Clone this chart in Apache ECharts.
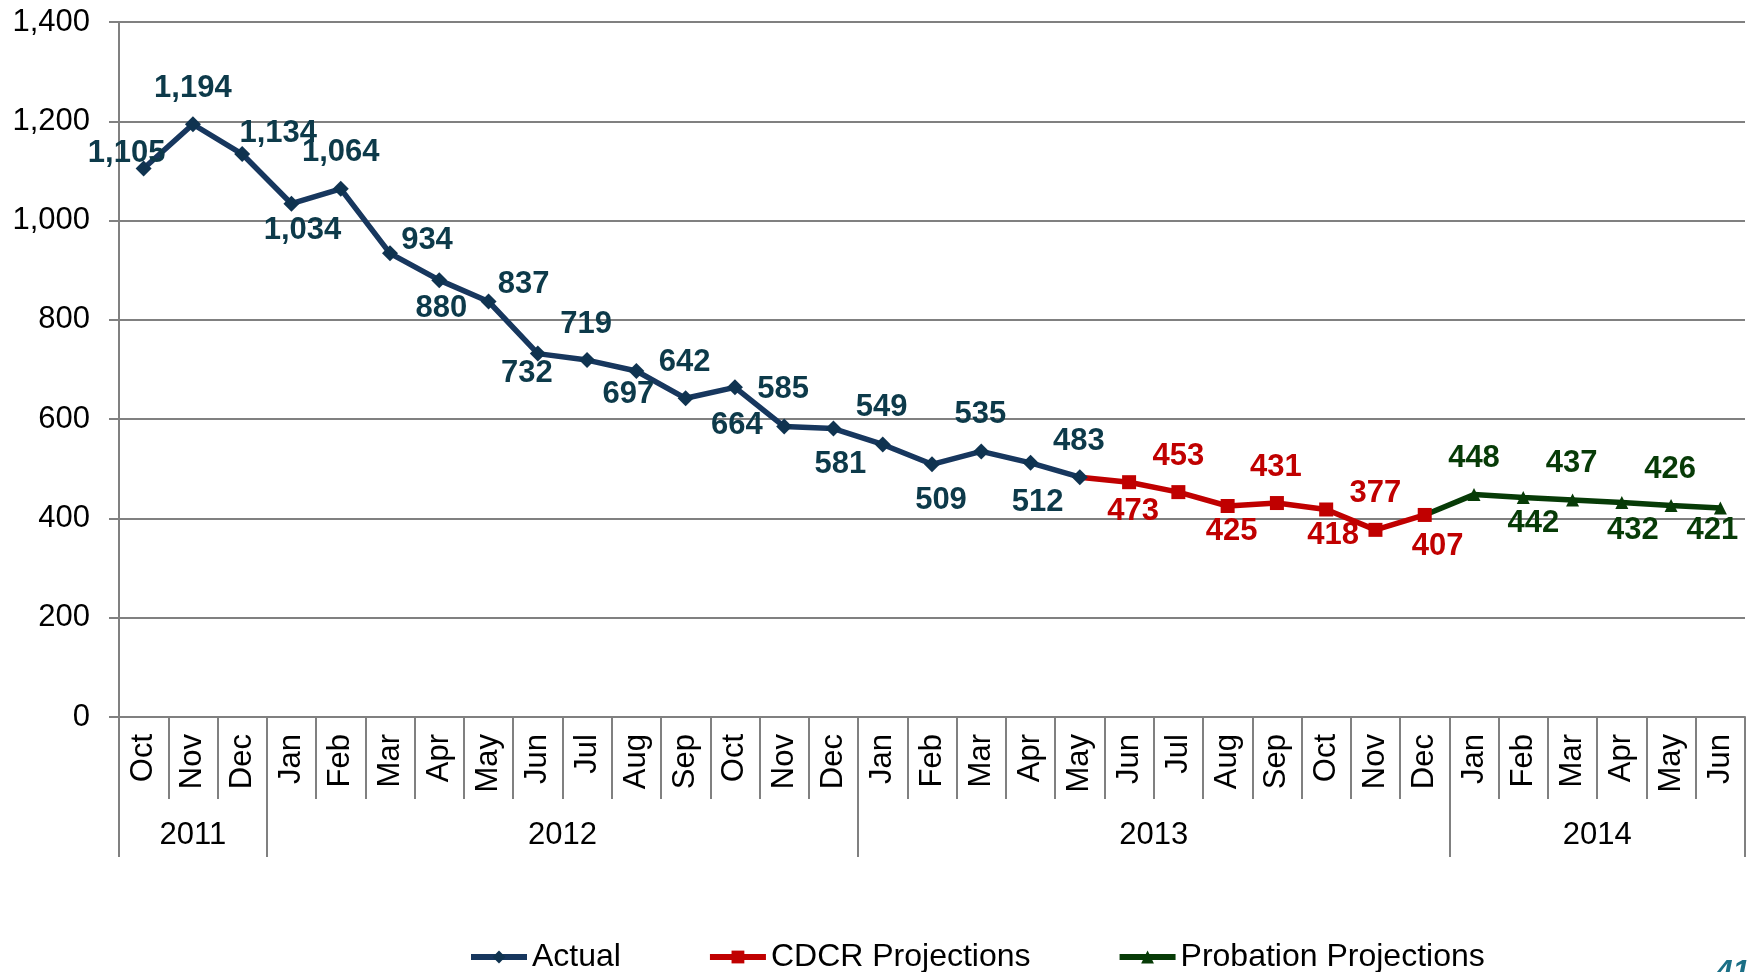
<!DOCTYPE html>
<html>
<head>
<meta charset="utf-8">
<script src="https://cdn.jsdelivr.net/npm/echarts@6/dist/echarts.min.js"></script>
<style>
  html, body { margin: 0; padding: 0; background: #fff; }
  #chart { width: 1752px; height: 972px; }
</style>
</head>
<body>
<div id="chart"></div>
<script>
// month categories, Oct 2011 .. Jun 2014
var months = ['Oct','Nov','Dec',
  'Jan','Feb','Mar','Apr','May','Jun','Jul','Aug','Sep','Oct','Nov','Dec',
  'Jan','Feb','Mar','Apr','May','Jun','Jul','Aug','Sep','Oct','Nov','Dec',
  'Jan','Feb','Mar','Apr','May','Jun'];
// years and how many months of each are shown
var years = ['2011', '2012', '2013', '2014'];
var yearSpans = [3, 12, 12, 6];

var actual = [1105, 1194, 1134, 1034, 1064, 934, 880, 837, 732, 719, 697, 642,
  664, 585, 581, 549, 509, 535, 512, 483];
var cdcr = [473, 453, 425, 431, 418, 377, 407];
var probation = [448, 442, 437, 432, 426, 421];

var yTicks = [0, 200, 400, 600, 800, 1000, 1200, 1400];

// label offsets (px) from each point, as placed in the original
var actualLabelOff = [[-17,-15],[0,-36],[36,-21],[11,27],[0,-36],[37,-13],[2,28],[35,-17],
  [-11,20],[-1,-36],[-8,23],[-1,-36],[2,38],[-1,-37],[7,36],[-1,-37],[9,36],[-1,-37],[7,40],[-1,-36]];
var cdcrLabelOff = [[4,29],[0,-36],[4,25],[-1,-36],[7,26],[0,-36],[13,31]];
var probLabelOff = [[0,-36],[10,26],[-1,-37],[11,28],[-1,-36],[-8,22]];

var FONT = '"Liberation Sans", Arial, sans-serif';

function fmt(v) {
  return String(v).replace(/\B(?=(\d{3})+(?!\d))/g, ',');
}

// build a 33-long series; startIdx = first month of own values,
// joinValue = the previous series' last value (drawn as connector only)
function buildSeries(values, offs, startIdx, joinValue) {
  var arr = [];
  for (var i = 0; i < months.length; i++) arr.push(null);
  if (joinValue != null) {
    arr[startIdx - 1] = { value: joinValue, symbol: 'none', label: { show: false } };
  }
  values.forEach(function (v, k) {
    arr[startIdx + k] = { value: v, label: { offset: offs[k] } };
  });
  return arr;
}

// year row: half-month positions so both boundaries and centres land on points
var halfCats = [];
for (var h = 0; h <= months.length * 2; h++) halfCats.push('');
var yearTickIdx = [0];
var yearLabelIdx = {};
var acc = 0;
years.forEach(function (y, i) {
  yearLabelIdx[acc + yearSpans[i]] = y; // centre in half-months
  acc += yearSpans[i] * 2;
  yearTickIdx.push(acc);
});

var chart = echarts.init(document.getElementById('chart'));

var labelBase = {
  show: true,
  position: 'inside',
  fontFamily: FONT,
  fontSize: 31,
  fontWeight: 'bold',
  formatter: function (p) { return fmt(p.value); }
};

chart.setOption({
  animation: false,
  textStyle: { fontFamily: FONT },
  grid: { left: 119, right: 7, top: 22, bottom: 255 },
  legend: {
    data: [
      { name: 'Actual', lineStyle: { width: 6 } },
      { name: 'CDCR Projections', lineStyle: { width: 6 } },
      { name: 'Probation Projections', lineStyle: { width: 6 } }
    ],
    left: 463,
    top: 936,
    itemWidth: 56,
    itemHeight: 16,
    itemGap: 86,
    textStyle: { fontFamily: FONT, fontSize: 32, color: '#000' }
  },
  xAxis: [{
    type: 'category',
    data: months,
    boundaryGap: true,
    axisLine: { show: true, lineStyle: { color: '#808080', width: 2 } },
    axisTick: { show: true, interval: 0, length: 82, lineStyle: { color: '#808080', width: 2 } },
    axisLabel: {
      interval: 0, rotate: 90, margin: 17,
      fontFamily: FONT, fontSize: 31, color: '#000'
    }
  }, {
    type: 'category',
    data: halfCats,
    boundaryGap: false,
    position: 'bottom',
    offset: 82,
    axisLine: { show: false },
    axisTick: {
      show: true, length: 58,
      interval: function (idx) { return yearTickIdx.indexOf(idx) >= 0; },
      lineStyle: { color: '#808080', width: 2 }
    },
    axisLabel: {
      interval: function (idx) { return yearLabelIdx[idx] != null; },
      formatter: function (v, idx) { return yearLabelIdx[idx] || ''; },
      margin: 21,
      fontFamily: FONT, fontSize: 31, color: '#000'
    }
  }],
  yAxis: {
    type: 'value',
    min: 0,
    max: 1400,
    interval: 200,
    axisLine: { show: true, lineStyle: { color: '#808080', width: 2 } },
    axisTick: { show: true, length: 10, lineStyle: { color: '#808080', width: 2 } },
    splitLine: { show: true, lineStyle: { color: '#808080', width: 2 } },
    axisLabel: {
      margin: 29,
      fontFamily: FONT, fontSize: 31, color: '#000',
      formatter: function (v) { return yTicks.indexOf(v) >= 0 ? fmt(v) : ''; }
    }
  },
  series: [{
    name: 'Probation Projections',
    type: 'line',
    data: buildSeries(probation, probLabelOff, actual.length + cdcr.length, cdcr[cdcr.length - 1]),
    symbol: 'triangle',
    symbolSize: 13,
    color: '#073b07',
    lineStyle: { width: 5.5, color: '#073b07' },
    itemStyle: { color: '#073b07' },
    label: Object.assign({}, labelBase, { color: '#073b07' })
  }, {
    name: 'CDCR Projections',
    type: 'line',
    data: buildSeries(cdcr, cdcrLabelOff, actual.length, actual[actual.length - 1]),
    symbol: 'rect',
    symbolSize: 14,
    color: '#c00000',
    lineStyle: { width: 5.5, color: '#c00000' },
    itemStyle: { color: '#c00000' },
    label: Object.assign({}, labelBase, { color: '#c00000' })
  }, {
    name: 'Actual',
    type: 'line',
    data: buildSeries(actual, actualLabelOff, 0, null),
    symbol: 'diamond',
    symbolSize: 16,
    color: '#17375e',
    lineStyle: { width: 5.5, color: '#17375e' },
    itemStyle: { color: '#0f3350' },
    label: Object.assign({}, labelBase, { color: '#0d3a4a' })
  }],
  graphic: [{
    type: 'text',
    left: 1716,
    top: 957,
    style: { text: '41', font: 'italic bold 30px ' + FONT, fill: '#1b6f86' }
  }]
});
</script>
</body>
</html>
